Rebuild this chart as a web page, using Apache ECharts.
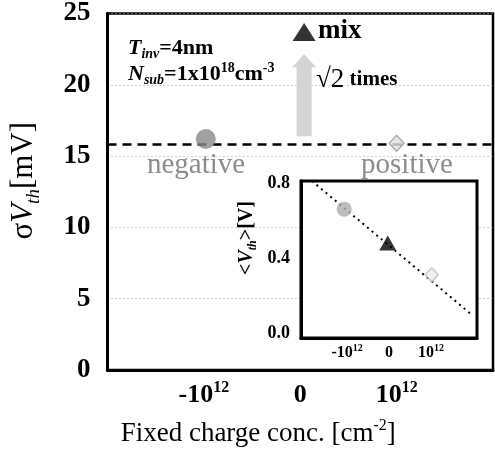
<!DOCTYPE html>
<html><head><meta charset="utf-8">
<script src="https://cdn.jsdelivr.net/npm/echarts@6/dist/echarts.min.js"></script>
<style>html,body{margin:0;padding:0;background:#fff}#c{width:495px;height:466px}</style>
</head><body><div id="c"></div>
<script>
// ---- data ----
const groups = ['negative', 'mix', 'positive'];
const mainX = [-0.98, 0.04, 1.0];
const sigmaVth = [16.2, 23.7, 15.9];
const meanSigma = 15.8;
const arrowX = 0.04, arrowFrom = 16.4, arrowTo = 22.15;
const insetX = [-1.07, -0.03, 1.02];
const meanVth = [0.66, 0.48, 0.31];
const fitX = [-1.84, 1.98];
const fitY = [0.81, 0.096];
const xTickValues = [-1, 0, 1];
const xTickBase = ['-10', '0', '10'];
const xTickSup = ['12', '', '12'];
const yTickValues = [0, 5, 10, 15, 20, 25];
const insetYTicks = [0, 0.4, 0.8];

const SERIF = "'Liberation Serif', 'DejaVu Serif', serif";
const mainStyle = {
  negative: {symbol: 'circle', symbolSize: 20, itemStyle: {color: '#8a8a8a'}},
  mix: {symbol: 'triangle', symbolSize: [23, 18], itemStyle: {color: '#000'}},
  positive: {symbol: 'diamond', symbolSize: [15, 16], itemStyle: {color: '#e2e2e2', borderColor: '#9a9a9a', borderWidth: 1.5}}
};
const insetStyle = {
  negative: {symbol: 'circle', symbolSize: 15, itemStyle: {color: '#adadad'}},
  mix: {symbol: 'triangle', symbolSize: [17, 15], itemStyle: {color: '#000'}},
  positive: {symbol: 'diamond', symbolSize: [13, 14], itemStyle: {color: '#eeeeee', borderColor: '#bdbdbd', borderWidth: 1.5}}
};

function tickFmt(v) {
  const i = xTickValues.indexOf(Math.round(v));
  if (i < 0) return '';
  return '{b|' + xTickBase[i] + '}' + (xTickSup[i] ? '{sup|' + xTickSup[i] + '}' : '');
}

const chart = echarts.init(document.getElementById('c'), null, {renderer: 'canvas'});
const option = {
  animation: false,
  backgroundColor: '#fff',
  grid: [
    {left: 100, top: 11, right: 2, bottom: 96, show: true, borderColor: '#000', borderWidth: 2.5, z: 0},
    {left: 301, top: 181, width: 176, height: 157, show: true, borderColor: '#000', borderWidth: 3, backgroundColor: '#fff', z: 10}
  ],
  xAxis: [
    {
      type: 'value', gridIndex: 0, min: -2, max: 2,
      axisLine: {show: true, onZero: false, lineStyle: {color: '#000', width: 3}},
      axisTick: {show: false}, splitLine: {show: false},
      axisLabel: {
        customValues: xTickValues, formatter: tickFmt, margin: 10,
        rich: {
          b: {fontFamily: SERIF, fontWeight: 'bold', fontSize: 26, lineHeight: 30, color: '#000'},
          sup: {fontFamily: SERIF, fontWeight: 'bold', fontSize: 16, lineHeight: 16, verticalAlign: 'top', color: '#000'}
        }
      },
      name: '{t|Fixed charge conc. [cm}{sup|-2}{t|]}',
      nameLocation: 'middle', nameGap: 48,
      nameTextStyle: {
        padding: [0, 84, 0, 0],
        rich: {
          t: {fontFamily: SERIF, fontSize: 27, lineHeight: 32, color: '#000'},
          sup: {fontFamily: SERIF, fontSize: 16, lineHeight: 16, verticalAlign: 'top', color: '#000'}
        }
      }
    },
    {
      type: 'value', gridIndex: 1, min: -2.1, max: 2.1, z: 11,
      axisLine: {show: true, onZero: false, lineStyle: {color: '#000', width: 3}},
      axisTick: {show: false}, splitLine: {show: false},
      axisLabel: {
        customValues: xTickValues, formatter: tickFmt, margin: 5,
        rich: {
          b: {fontFamily: SERIF, fontWeight: 'bold', fontSize: 16, lineHeight: 19, color: '#000'},
          sup: {fontFamily: SERIF, fontWeight: 'bold', fontSize: 10, lineHeight: 10, verticalAlign: 'top', color: '#000'}
        }
      }
    }
  ],
  yAxis: [
    {
      type: 'value', gridIndex: 0, min: 0, max: 25, interval: 5,
      axisLine: {show: true, onZero: false, lineStyle: {color: '#000', width: 3}},
      axisTick: {show: false},
      splitLine: {show: true, lineStyle: {type: [1, 3], color: '#a0a0a0', width: 1}},
      axisLabel: {
        customValues: yTickValues, margin: 17, color: '#000',
        fontFamily: SERIF, fontWeight: 'bold', fontSize: 27
      },
      name: '{s|σ}{v|V}{sub|th}{s|[mV]}',
      nameLocation: 'middle', nameRotate: 90, nameGap: 64,
      nameTextStyle: {
        padding: [0, 0, 0, 22],
        rich: {
          s: {fontFamily: SERIF, fontSize: 31, lineHeight: 40, color: '#000'},
          v: {fontFamily: SERIF, fontStyle: 'italic', fontSize: 31, lineHeight: 40, color: '#000'},
          sub: {fontFamily: SERIF, fontStyle: 'italic', fontSize: 19, lineHeight: 19, verticalAlign: 'bottom', color: '#000'}
        }
      }
    },
    {
      type: 'value', gridIndex: 1, min: -0.027, max: 0.81, z: 11,
      axisLine: {show: true, onZero: false, lineStyle: {color: '#000', width: 3}},
      axisTick: {show: false}, splitLine: {show: false},
      axisLabel: {
        customValues: insetYTicks, margin: 11, color: '#000',
        fontFamily: SERIF, fontWeight: 'bold', fontSize: 18,
        formatter: v => v.toFixed(1)
      }
    }
  ],
  graphic: [
    {type: 'text', x: 128, y: 48, z: 20, style: {
      text: '{it|T}{sub|inv}{b|=4nm}', verticalAlign: 'middle', textVerticalAlign: 'middle', fill: '#000',
      rich: {
        it: {fontFamily: SERIF, fontWeight: 'bold', fontStyle: 'italic', fontSize: 22, lineHeight: 26},
        b: {fontFamily: SERIF, fontWeight: 'bold', fontSize: 22, lineHeight: 26},
        sub: {fontFamily: SERIF, fontWeight: 'bold', fontStyle: 'italic', fontSize: 14, lineHeight: 14, verticalAlign: 'bottom'}
      }}},
    {type: 'text', x: 128, y: 74, z: 20, style: {
      text: '{it|N}{sub|sub}{b|=1x10}{sup|18}{b|cm}{sup|-3}', verticalAlign: 'middle', textVerticalAlign: 'middle', fill: '#000',
      rich: {
        it: {fontFamily: SERIF, fontWeight: 'bold', fontStyle: 'italic', fontSize: 22, lineHeight: 26},
        b: {fontFamily: SERIF, fontWeight: 'bold', fontSize: 22, lineHeight: 26},
        sub: {fontFamily: SERIF, fontWeight: 'bold', fontStyle: 'italic', fontSize: 14, lineHeight: 14, verticalAlign: 'bottom'},
        sup: {fontFamily: SERIF, fontWeight: 'bold', fontSize: 14, lineHeight: 14, verticalAlign: 'top'}
      }}},
    {type: 'text', x: 318, y: 31, z: 20, style: {
      text: 'mix', fill: '#000', font: "bold 27px 'Liberation Serif'", verticalAlign: 'middle', textVerticalAlign: 'middle'}},
    {type: 'text', x: 316, y: 80, z: 20, style: {
      text: '{r|√2}{b| times}', verticalAlign: 'middle', textVerticalAlign: 'middle', fill: '#000',
      rich: {
        r: {fontFamily: SERIF, fontSize: 27, lineHeight: 30},
        b: {fontFamily: SERIF, fontWeight: 'bold', fontSize: 21, lineHeight: 30}
      }}},
    {type: 'text', x: 196, y: 165, z: 20, style: {
      text: 'negative', fill: '#8c8c8c', font: "29px 'Liberation Serif'", align: 'center', textAlign: 'center', verticalAlign: 'middle', textVerticalAlign: 'middle'}},
    {type: 'text', x: 407, y: 165, z: 20, style: {
      text: 'positive', fill: '#8c8c8c', font: "29px 'Liberation Serif'", align: 'center', textAlign: 'center', verticalAlign: 'middle', textVerticalAlign: 'middle'}},
    {type: 'text', x: 247, y: 238, rotation: Math.PI / 2, z: 20, style: {
      text: '{b|<}{i|V}{sub|th}{b|>[V]}', align: 'center', textAlign: 'center', verticalAlign: 'middle', textVerticalAlign: 'middle', fill: '#000',
      rich: {
        b: {fontFamily: SERIF, fontWeight: 'bold', fontSize: 20, lineHeight: 24},
        i: {fontFamily: SERIF, fontWeight: 'bold', fontStyle: 'italic', fontSize: 20, lineHeight: 24},
        sub: {fontFamily: SERIF, fontWeight: 'bold', fontStyle: 'italic', fontSize: 12, lineHeight: 12, verticalAlign: 'bottom'}
      }}}
  ],
  series: [
    {
      type: 'custom', xAxisIndex: 0, yAxisIndex: 0, z: 1, silent: true,
      data: [[arrowX, arrowFrom, arrowTo]],
      renderItem: function (params, api) {
        const b = api.coord([api.value(0), api.value(1)]);
        const t = api.coord([api.value(0), api.value(2)]);
        const bw = 7.5, hw = 12, hh = 13;
        return {
          type: 'polygon',
          shape: {points: [[b[0] - bw, b[1]], [b[0] - bw, t[1] + hh], [b[0] - hw, t[1] + hh], [t[0], t[1]],
            [b[0] + hw, t[1] + hh], [b[0] + bw, t[1] + hh], [b[0] + bw, b[1]]]},
          style: {fill: '#d4d4d4'}
        };
      }
    },
    {
      type: 'scatter', xAxisIndex: 0, yAxisIndex: 0, z: 5,
      data: groups.map((g, i) => Object.assign({name: g, value: [mainX[i], sigmaVth[i]]}, mainStyle[g])),
      markLine: {
        silent: true, symbol: 'none', label: {show: false}, z: 3,
        lineStyle: {type: [9, 6], color: '#000', width: 2.5},
        data: [{yAxis: meanSigma}]
      }
    },
    {
      type: 'line', xAxisIndex: 1, yAxisIndex: 1, z: 12, symbol: 'none',
      lineStyle: {type: [2, 4], color: '#000', width: 2},
      data: fitX.map((x, i) => [x, fitY[i]])
    },
    {
      type: 'scatter', xAxisIndex: 1, yAxisIndex: 1, z: 13,
      data: groups.map((g, i) => Object.assign({name: g, value: [insetX[i], meanVth[i]]}, insetStyle[g]))
    }
  ]
};
chart.setOption(option);
</script>
</body></html>
